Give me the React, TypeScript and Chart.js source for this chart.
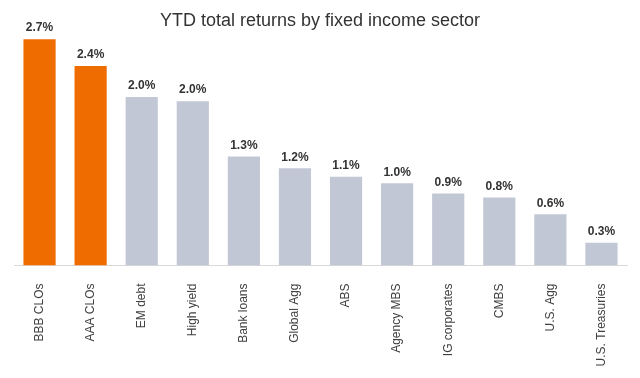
import React, { useEffect, useRef } from "react";
import { Chart, registerables } from "chart.js";

Chart.register(...registerables);

const TITLE = "YTD total returns by fixed income sector";
const categories = [
  "BBB CLOs",
  "AAA CLOs",
  "EM debt",
  "High yield",
  "Bank loans",
  "Global Agg",
  "ABS",
  "Agency MBS",
  "IG corporates",
  "CMBS",
  "U.S. Agg",
  "U.S. Treasuries",
];
const returns = [2.7, 2.38, 2.01, 1.96, 1.3, 1.16, 1.06, 0.98, 0.86, 0.81, 0.61, 0.27];
const highlighted = [true, true, false, false, false, false, false, false, false, false, false, false];

const ORANGE = "#EF6D00";
const GRAY = "#C2C7D5";
const TEXT = "#333333";
const FONT = "'Liberation Sans', Arial, sans-serif";

const valueLabels = {
  id: "valueLabels",
  afterDatasetsDraw(chart: any) {
    const ctx = chart.ctx;
    const meta = chart.getDatasetMeta(0);
    ctx.save();
    ctx.font = `bold 12px ${FONT}`;
    ctx.fillStyle = TEXT;
    ctx.textAlign = "center";
    ctx.textBaseline = "bottom";
    meta.data.forEach((bar: any, i: number) => {
      const v = chart.data.datasets[0].data[i] as number;
      ctx.fillText(v.toFixed(1) + "%", bar.x, bar.y - 5);
    });
    ctx.restore();
  },
};

const titlePlugin = {
  id: "customTitle",
  afterDraw(chart: any) {
    const ctx = chart.ctx;
    ctx.save();
    ctx.font = `18px ${FONT}`;
    ctx.fillStyle = TEXT;
    ctx.textAlign = "center";
    ctx.textBaseline = "middle";
    ctx.fillText(TITLE, chart.width / 2, 21);
    ctx.restore();
  },
};

export default function App() {
  const ref = useRef<HTMLCanvasElement | null>(null);
  useEffect(() => {
    if (!ref.current) return;
    const chart = new Chart(ref.current, {
      type: "bar",
      data: {
        labels: categories,
        datasets: [
          {
            data: returns,
            backgroundColor: highlighted.map((h) => (h ? ORANGE : GRAY)),
            barPercentage: 0.63,
            categoryPercentage: 1,
          },
        ],
      },
      options: {
        animation: false,
        responsive: true,
        maintainAspectRatio: false,
        layout: { padding: { top: 14, left: 14, right: 13, bottom: 0 } },
        plugins: {
          legend: { display: false },
          title: { display: false },
          tooltip: { enabled: false },
        },
        scales: {
          y: { display: false, min: 0, max: 3.0 },
          x: {
            afterFit(scale: any) {
              scale.height = 112.5;
            },
            grid: { display: false, drawTicks: false },
            border: { display: true, color: "#D9D9D9", width: 1 },
            ticks: {
              autoSkip: false,
              maxRotation: 90,
              minRotation: 90,
              padding: 18,
              color: "#404040",
              font: { size: 12, family: FONT },
            },
          },
        },
      },
      plugins: [valueLabels, titlePlugin],
    });
    return () => chart.destroy();
  }, []);
  return (
    <div style={{ position: "fixed", left: 0, top: 0, width: 640, height: 378, background: "#fff" }}>
      <canvas ref={ref} />
    </div>
  );
}
